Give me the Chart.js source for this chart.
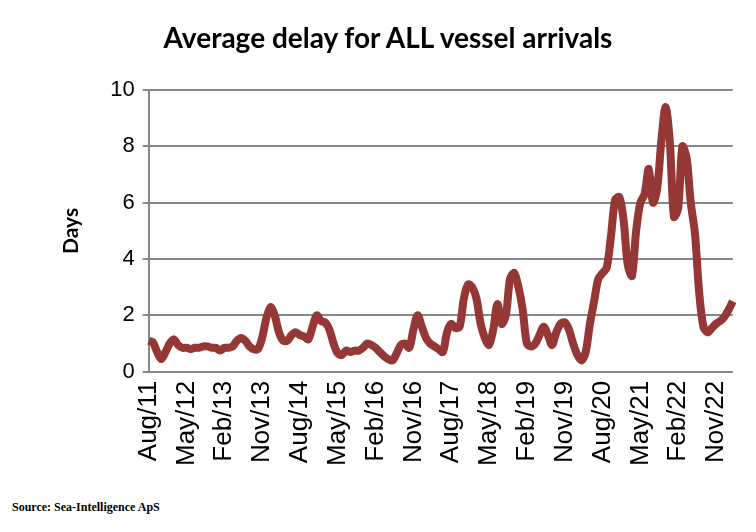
<!DOCTYPE html>
<html><head><meta charset="utf-8">
<script src="https://cdn.jsdelivr.net/npm/chart.js@4"></script>
<style>
html,body{margin:0;padding:0;background:#fff;width:756px;height:532px;overflow:hidden;position:relative}
#wrap{position:absolute;left:0;top:0;width:766px;height:468px}
#title{position:absolute;left:88px;width:600px;top:20px;text-align:center;font:bold 28px Lato,sans-serif;color:#000}
#src{position:absolute;left:12px;top:500px;font:bold 12px "Liberation Serif","Times New Roman",serif;color:#000}
</style></head><body>
<div id="wrap"><canvas id="c"></canvas></div>
<div id="title">Average delay for ALL vessel arrivals</div>
<div id="src">Source: Sea-Intelligence ApS</div>
<script>
const monthNames=["Jan","Feb","Mar","Apr","May","Jun","Jul","Aug","Sep","Oct","Nov","Dec"];
const categories=[];
for(let k=0;k<140;k++){const m=(7+k)%12,y=11+Math.floor((7+k)/12);categories.push(monthNames[m]+"/"+String(y).padStart(2,"0"));}
const days=[1.1,1.05,0.7,0.45,0.7,1.0,1.15,0.95,0.85,0.85,0.8,0.85,0.85,0.9,0.9,0.85,0.85,0.75,0.85,0.85,
0.9,1.1,1.2,1.1,0.9,0.8,0.8,1.2,1.9,2.3,2.0,1.4,1.1,1.1,1.3,1.4,1.3,1.25,1.15,1.6,
2.0,1.8,1.75,1.5,1.0,0.65,0.6,0.75,0.7,0.75,0.75,0.85,1.0,0.95,0.85,0.7,0.55,0.45,0.4,0.65,
0.95,1.0,0.85,1.5,2.0,1.6,1.2,1.0,0.9,0.8,0.7,1.4,1.7,1.55,1.6,2.6,3.1,3.0,2.6,1.7,
1.2,0.95,1.5,2.4,1.7,2.0,3.3,3.5,3.0,2.2,1.0,0.9,1.0,1.3,1.6,1.3,0.95,1.4,1.7,1.75,
1.5,1.0,0.6,0.4,0.7,1.7,2.5,3.3,3.5,3.7,4.8,6.1,6.2,5.4,3.8,3.4,5.0,6.0,6.3,7.2,
6.0,6.5,8.2,9.4,8.2,5.5,5.8,8.0,7.6,6.0,4.9,2.8,1.6,1.4,1.55,1.7,1.8,1.95,2.2,2.5];
const yTicks=[0,2,4,6,8,10];
new Chart(document.getElementById('c'),{
 type:'line',
 data:{labels:categories,datasets:[{data:days,borderColor:'#953735',borderWidth:8,pointRadius:0,tension:0.3,fill:false}]},
 options:{responsive:true,maintainAspectRatio:false,animation:false,
  layout:{padding:{left:55,right:0,top:90,bottom:0}},
  plugins:{legend:{display:false},tooltip:{enabled:false},title:{display:false}},
  scales:{
   x:{offset:false,grid:{display:false,drawTicks:true,tickLength:7,tickColor:'#888'},border:{color:'#888',width:2},
      ticks:{autoSkip:false,maxRotation:90,minRotation:90,color:'#000',font:{family:'Liberation Sans',size:26},padding:2,
        callback:(v,i)=>i%9===0?categories[i]:''}},
   y:{min:0,max:10,afterBuildTicks:a=>{a.ticks=yTicks.map(v=>({value:v}));},
      grid:{color:'#888',lineWidth:2,tickLength:6},border:{color:'#888',width:2},
      ticks:{color:'#000',font:{family:'Liberation Sans',size:22},padding:8},
      title:{display:true,text:'Days',color:'#000',font:{family:'Lato',size:21,weight:'bold'},padding:{bottom:18}}}
  }}
});
</script></body></html>
